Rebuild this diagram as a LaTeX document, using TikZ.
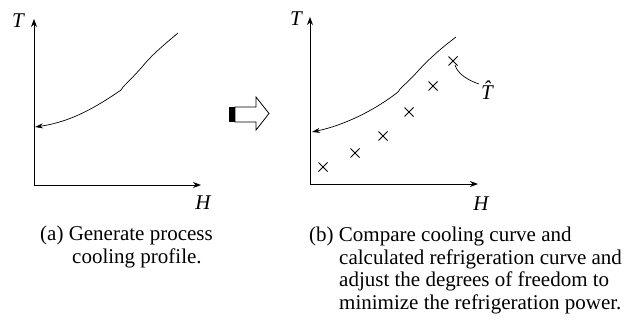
\documentclass[tikz,border=0pt]{standalone}
\usepackage{fontspec}
\setmainfont{Liberation Serif}
\usetikzlibrary{arrows.meta}
\begin{document}
\begin{tikzpicture}[x=1pt,y=-1pt,
  axis/.style={line width=0.9pt,-{Stealth[length=8pt,width=6pt]}},
  curve/.style={line width=0.7pt},
  curvearrow/.style={line width=0.7pt,-{Stealth[length=8pt,width=5pt]}},
  lbl/.style={font=\fontsize{21}{23}\selectfont\itshape,inner sep=0pt},
  captext/.style={font=\fontsize{21}{22.5}\selectfont,inner sep=0pt,align=left,anchor=base west},
  xmark/.style={line width=0.9pt}]
\useasboundingbox (0,0) rectangle (636,322);
% ---------- left panel ----------
\coordinate (oa) at (34,185);
\coordinate (ya) at (34,19);
\coordinate (xa) at (201,185);
\draw[axis] (oa) -- (ya);
\draw[axis] (oa) -- (xa);
\node[lbl] (Ta) at (18,21) {T};
\node[lbl] (Ha) at (203,203) {H};
\coordinate (a1) at (178,33);
\coordinate (a2) at (123,87);
\coordinate (a3) at (121,90);
\coordinate (a4) at (35,127);
\draw[curve] (a1) .. controls (160,48) and (150,57) .. (142,67) .. controls (134,76) and (127,83) .. (a2) -- (a3);
\draw[curvearrow] (a3) .. controls (95,108) and (70,122) .. (a4);
% ---------- block arrow ----------
\fill (229,107) rectangle (235,122);
\draw[line width=0.8pt,line join=miter] (235,107) -- (256,107) -- (256,97) -- (269,113.5) -- (256,130) -- (256,122) -- (235,122) -- cycle;
% ---------- right panel ----------
\coordinate (ob) at (310,184);
\coordinate (yb) at (310,17);
\coordinate (xb) at (478,184);
\draw[axis] (ob) -- (yb);
\draw[axis] (ob) -- (xb);
\node[lbl] (Tb) at (296,19) {T};
\node[lbl] (Hb) at (481,204) {H};
\coordinate (b1) at (456,37);
\coordinate (b2) at (400,89);
\coordinate (b3) at (398,92);
\coordinate (b4) at (312,132);
\draw[curve] (b1) .. controls (440,49) and (428,60) .. (418,71) .. controls (410,80) and (404,85) .. (b2) -- (b3);
\draw[curvearrow] (b3) .. controls (375,110) and (345,125) .. (b4);
\foreach \n/\px/\py in {c1/323/167,c2/355/153,c3/383/136,c4/409/112,c5/433/86,c6/453/61}{
  \coordinate (\n) at (\px,\py);
  \draw[xmark] ([shift={(-4.5,-4.5)}]\n) -- ([shift={(4.5,4.5)}]\n);
  \draw[xmark] ([shift={(-4.5,4.5)}]\n) -- ([shift={(4.5,-4.5)}]\n);
}
\node[lbl] (That) at (487,90) {\^{T}};
\draw[curve] (That.west) ++(-2,-6) coordinate (ts) .. controls (462,78) and (457,71) .. ([shift={(2,4)}]c6);
% ---------- captions ----------
\node[captext] (capa) at (40,263) {(a) Generate process\\\hspace*{32pt}cooling profile.};
\node[captext] (capb) at (309,309) {(b) Compare cooling curve and\\\hspace*{30pt}calculated refrigeration curve and\\\hspace*{30pt}adjust the degrees of freedom to\\\hspace*{30pt}minimize the refrigeration power.};
\end{tikzpicture}
\end{document}
